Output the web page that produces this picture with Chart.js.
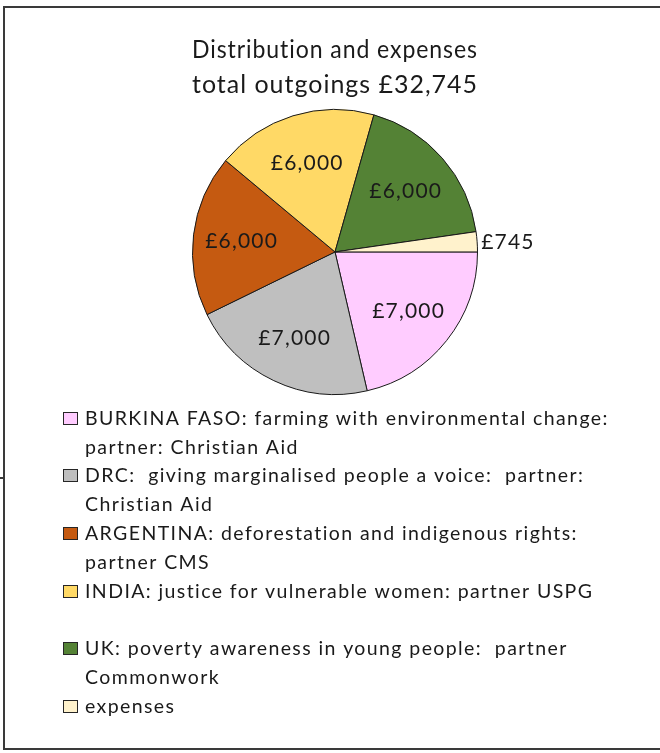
<!DOCTYPE html>
<html>
<head>
<meta charset="utf-8">
<script src="https://cdn.jsdelivr.net/npm/chart.js@4/dist/chart.umd.min.js"></script>
<style>
  html, body { margin: 0; padding: 0; background: #fff; }
  #wrap { width: 660px; height: 753px; position: relative; }
</style>
</head>
<body>
<div id="wrap"><canvas id="pie" width="660" height="753"></canvas></div>
<script>
const titleLines = ['Distribution and expenses', 'total outgoings £32,745'];
const categories = [
  ['BURKINA FASO: farming with environmental change:', 'partner: Christian Aid'],
  ['DRC:  giving marginalised people a voice:  partner:', 'Christian Aid'],
  ['ARGENTINA: deforestation and indigenous rights:', 'partner CMS'],
  ['INDIA: justice for vulnerable women: partner USPG'],
  ['UK: poverty awareness in young people:  partner', 'Commonwork'],
  ['expenses']
];
const amounts = [7000, 7000, 6000, 6000, 6000, 745];
const sliceColors = ['#FFCCFF', '#BFBFBF', '#C55A11', '#FFD966', '#548235', '#FFF2CC'];

const textColor = '#1a1a1a';
const fontFamily = 'Lato, "Open Sans", sans-serif';

function money(v) {
  return '£' + v.toLocaleString('en-GB');
}

// frame round the whole chart, like the excel chart border
const framePlugin = {
  id: 'frame',
  beforeDraw(chart) {
    const ctx = chart.ctx;
    ctx.save();
    ctx.fillStyle = '#fff';
    ctx.fillRect(0, 0, chart.width, chart.height);
    ctx.strokeStyle = '#3a3a3a';
    ctx.lineWidth = 2;
    ctx.beginPath();
    ctx.moveTo(chart.width, 7);
    ctx.lineTo(4, 7);
    ctx.lineTo(4, 749);
    ctx.lineTo(chart.width, 749);
    ctx.stroke();
    ctx.beginPath();
    ctx.moveTo(0, 478);
    ctx.lineTo(4, 478);
    ctx.stroke();
    ctx.restore();
    // excel renders the title a bit spaced out
    ctx.letterSpacing = '1px';
  }
};

// value labels inside the slices, small ones outside
const sliceLabels = {
  id: 'sliceLabels',
  afterDatasetsDraw(chart) {
    const ctx = chart.ctx;
    const meta = chart.getDatasetMeta(0);
    const data = chart.data.datasets[0].data;
    const total = data.reduce((a, b) => a + b, 0);
    ctx.save();
    ctx.font = '21px ' + fontFamily;
    ctx.letterSpacing = '1.2px';
    ctx.fillStyle = textColor;
    ctx.textBaseline = 'middle';
    meta.data.forEach((arc, i) => {
      const p = arc.getProps(['x', 'y', 'startAngle', 'endAngle', 'outerRadius'], true);
      const mid = (p.startAngle + p.endAngle) / 2;
      let r, align;
      if (data[i] / total < 0.05) {
        r = p.outerRadius + 4;
        align = 'left';
      } else {
        r = p.outerRadius * 0.66;
        align = 'center';
      }
      ctx.textAlign = align;
      ctx.fillText(money(data[i]), p.x + Math.cos(mid) * r, p.y + Math.sin(mid) * r + 1);
    });
    ctx.restore();
  }
};

// legend under the pie, each entry gets two text lines
const boxLegend = {
  id: 'boxLegend',
  afterDraw(chart) {
    const ctx = chart.ctx;
    const labels = chart.data.labels;
    const colors = chart.data.datasets[0].backgroundColor;
    const firstBase = 424.5;
    const lineH = 28.84;
    ctx.save();
    ctx.font = '19.5px ' + fontFamily;
    ctx.letterSpacing = '1.4px';
    ctx.textBaseline = 'alphabetic';
    ctx.textAlign = 'left';
    labels.forEach((lines, i) => {
      const base = Math.round(firstBase + i * 2 * lineH);
      ctx.fillStyle = colors[i];
      ctx.fillRect(63.5, base - 12.5, 14, 12);
      ctx.strokeStyle = '#262626';
      ctx.lineWidth = 1;
      ctx.strokeRect(63.5, base - 12.5, 14, 12);
      ctx.fillStyle = textColor;
      lines.forEach((t, j) => ctx.fillText(t, 85, base + Math.round(j * lineH)));
    });
    ctx.restore();
  }
};

new Chart(document.getElementById('pie'), {
  type: 'pie',
  data: {
    labels: categories,
    datasets: [{
      data: amounts,
      backgroundColor: sliceColors,
      borderColor: '#1a1a1a',
      borderWidth: 1
    }]
  },
  options: {
    responsive: false,
    animation: false,
    rotation: 90,
    layout: {
      padding: { top: 8, left: 192, right: 182, bottom: 358 }
    },
    plugins: {
      legend: { display: false },
      tooltip: { enabled: false },
      title: {
        display: true,
        text: titleLines,
        color: textColor,
        font: { family: fontFamily, size: 25, weight: 'normal', lineHeight: 1.41 },
        padding: { top: 24, bottom: 6.4 }
      }
    }
  },
  plugins: [framePlugin, sliceLabels, boxLegend]
});
</script>
</body>
</html>
